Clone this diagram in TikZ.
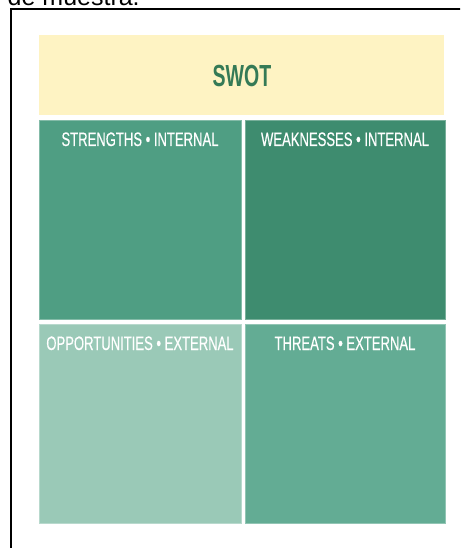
\documentclass[tikz,border=0pt]{standalone}
\usepackage{fontspec}
\setmainfont{Liberation Sans}
\newfontfamily\condfont[FakeStretch=0.67,FakeBold=0.4]{Liberation Sans}
\newfontfamily\condbold[FakeStretch=0.64]{Liberation Sans}
\definecolor{hdr}{HTML}{FEF3C3}
\definecolor{hdrtext}{HTML}{357A56}
\definecolor{cS}{HTML}{4F9E83}
\definecolor{cW}{HTML}{3E8C6F}
\definecolor{cO}{HTML}{9AC9B7}
\definecolor{cT}{HTML}{63AC94}
\tikzset{
  quad/.style={inner sep=0pt, outer sep=0pt, minimum width=202pt, minimum height=199pt, anchor=north west},
  edge/.style={draw=#1!70!white, line width=0.6pt},
  qlabel/.style={text=white, font=\condfont\fontsize{19.5pt}{20pt}\selectfont, anchor=base, inner sep=0pt},
}
\begin{document}
\begin{tikzpicture}[x=1pt,y=-1pt]
\useasboundingbox (0,0) rectangle (460,548);
\fill[white] (0,0) rectangle (460,548);
\clip (0,0) rectangle (460,548);
% partial caption at the very top
\node[anchor=base west, inner sep=0pt, font=\fontsize{25pt}{26pt}\selectfont] (cap) at (7.5,6) {de muestra.};
% frame
\coordinate (fr1) at (470,9.3);
\coordinate (fr2) at (11,9.3);
\coordinate (fr3) at (11,560);
\draw[line width=2pt] (fr1) -- (fr2) -- (fr3);
% header
\node[fill=hdr, inner sep=0pt, minimum width=405pt, minimum height=80pt, anchor=north west] (hdr) at (39,35) {};
\node[text=hdrtext, font=\condbold\bfseries\fontsize{30.5pt}{31pt}\selectfont, anchor=base, inner sep=0pt] (swot) at (242,87) {SWOT};
% quadrants
\node[quad, fill=cS, edge=cS] (S) at (39,120) {};
\node[quad, fill=cW, edge=cW, minimum width=200pt] (W) at (245,120) {};
\node[quad, fill=cO, edge=cO] (O) at (39,324) {};
\node[quad, fill=cT, edge=cT, minimum width=200pt] (T) at (245,324) {};
% labels
\node[qlabel] (Sl) at ([yshift=-26pt]S.north) {STRENGTHS • INTERNAL};
\node[qlabel] (Wl) at ([yshift=-26pt]W.north) {WEAKNESSES • INTERNAL};
\node[qlabel] (Ol) at ([yshift=-26pt]O.north) {OPPORTUNITIES • EXTERNAL};
\node[qlabel] (Tl) at ([yshift=-26pt]T.north) {THREATS • EXTERNAL};
\end{tikzpicture}
\end{document}
